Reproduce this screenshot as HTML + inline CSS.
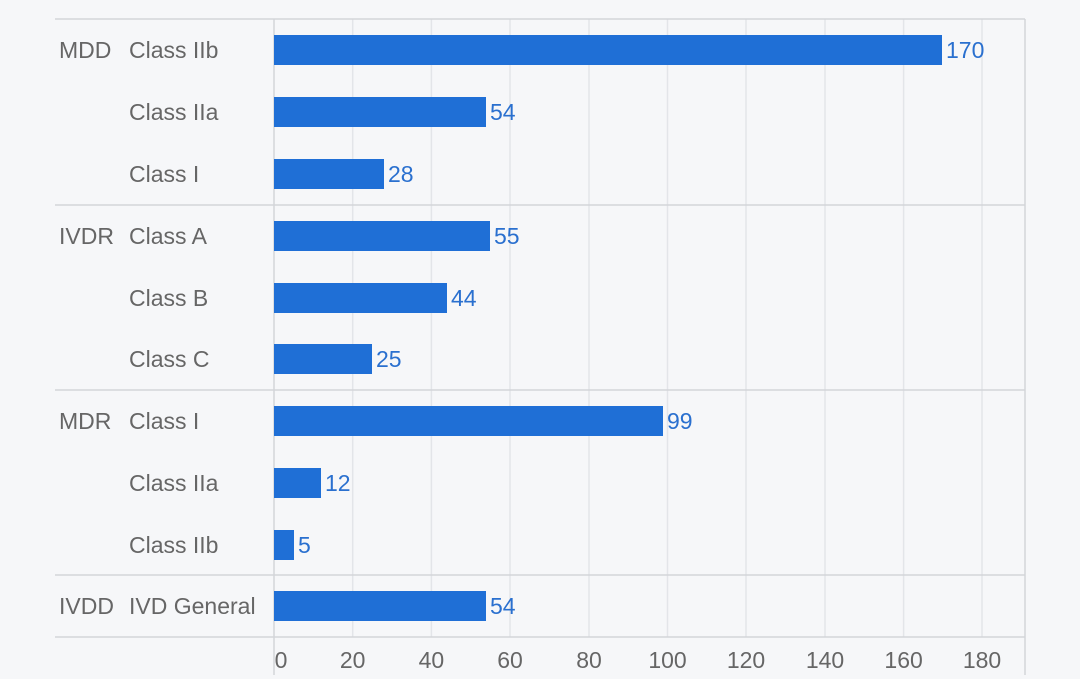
<!DOCTYPE html>
<html><head><meta charset="utf-8"><style>
html,body{margin:0;padding:0;background:#f6f7f9;}
svg{display:block;font-family:"Liberation Sans","DejaVu Sans",sans-serif;}
</style></head><body>
<svg width="1080" height="679" viewBox="0 0 1080 679">
<rect width="1080" height="679" fill="#f6f7f9"/>
<g stroke="#e3e5e9" stroke-width="1.5">
<line x1="352.7" y1="19" x2="352.7" y2="637"/><line x1="431.4" y1="19" x2="431.4" y2="637"/>
<line x1="510" y1="19" x2="510" y2="637"/><line x1="589" y1="19" x2="589" y2="637"/>
<line x1="667.5" y1="19" x2="667.5" y2="637"/><line x1="746" y1="19" x2="746" y2="637"/>
<line x1="825" y1="19" x2="825" y2="637"/><line x1="903.6" y1="19" x2="903.6" y2="637"/>
<line x1="982" y1="19" x2="982" y2="637"/>
</g>
<g stroke="#d3d5d9" stroke-width="1.5">
<line x1="55" y1="19" x2="1025" y2="19"/>
<line x1="55" y1="205" x2="1025" y2="205"/>
<line x1="55" y1="390" x2="1025" y2="390"/>
<line x1="55" y1="575" x2="1025" y2="575"/>
<line x1="55" y1="637" x2="1025" y2="637"/>
<line x1="274" y1="19" x2="274" y2="675"/>
<line x1="1025" y1="19" x2="1025" y2="675"/>
</g>
<g fill="#1f6fd6">
<rect x="274" y="35" width="668" height="30"/>
<rect x="274" y="97" width="212" height="30"/>
<rect x="274" y="159" width="110" height="30"/>
<rect x="274" y="221" width="216" height="30"/>
<rect x="274" y="283" width="173" height="30"/>
<rect x="274" y="344" width="98" height="30"/>
<rect x="274" y="406" width="389" height="30"/>
<rect x="274" y="468" width="47" height="30"/>
<rect x="274" y="530" width="20" height="30"/>
<rect x="274" y="591" width="212" height="30"/>
</g>
<g fill="#2a70cf" font-size="23">
<text x="946" y="58">170</text><text x="490" y="120">54</text><text x="388" y="182">28</text>
<text x="494" y="244">55</text><text x="451" y="306">44</text><text x="376" y="367">25</text>
<text x="667" y="429">99</text><text x="325" y="491">12</text><text x="298" y="553">5</text>
<text x="490" y="614">54</text>
</g>
<g fill="#666" font-size="23">
<text x="59" y="58">MDD</text><text x="129" y="58">Class IIb</text>
<text x="129" y="120">Class IIa</text><text x="129" y="182">Class I</text>
<text x="59" y="244">IVDR</text><text x="129" y="244">Class A</text>
<text x="129" y="306">Class B</text><text x="129" y="367">Class C</text>
<text x="59" y="429">MDR</text><text x="129" y="429">Class I</text>
<text x="129" y="491">Class IIa</text><text x="129" y="553">Class IIb</text>
<text x="59" y="614">IVDD</text><text x="129" y="614">IVD General</text>
</g>
<g fill="#666" font-size="23" text-anchor="middle">
<text x="281" y="668">0</text><text x="352.7" y="668">20</text><text x="431.4" y="668">40</text>
<text x="510" y="668">60</text><text x="589" y="668">80</text><text x="667.5" y="668">100</text>
<text x="746" y="668">120</text><text x="825" y="668">140</text><text x="903.6" y="668">160</text>
<text x="982" y="668">180</text>
</g>
</svg>
</body></html>
